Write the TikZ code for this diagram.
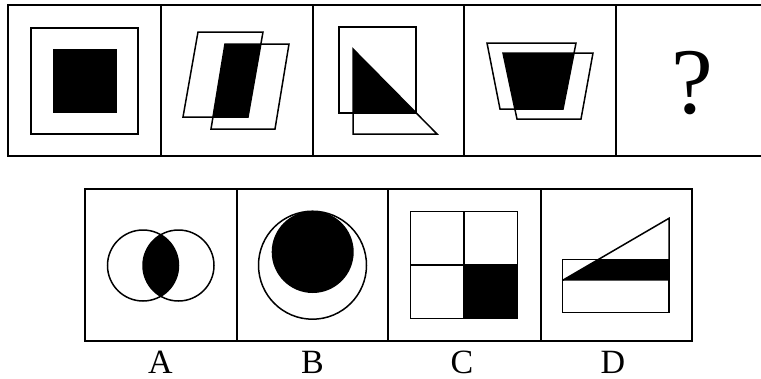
\documentclass[tikz,border=0pt]{standalone}
\usepackage{fontspec}
\setmainfont{Liberation Serif}
\begin{document}
\begin{tikzpicture}[x=1pt,y=-1pt,
  frame/.style={line width=1.8pt},
  outl/.style={line width=1.5pt, line join=miter},
  lbl/.style={font=\fontsize{34}{34}\selectfont, inner sep=0pt, anchor=base}]
\useasboundingbox (0,0) rectangle (761,378);
% ---------- top row ----------
\draw[frame] (761,5) -- (8,5) -- (8,156) -- (761,156);
\foreach \x in {161,313,464,616} \draw[frame] (\x,5) -- (\x,156);
% cell 1
\draw[outl] (31,28) rectangle (138,134);
\fill (53,49) rectangle (117,113);
% cell 2
\begin{scope}
  \clip (198,32) -- (263,32) -- (248,117) -- (183,117) -- cycle;
  \fill (225,44) -- (289,44) -- (275,129) -- (211,129) -- cycle;
\end{scope}
\draw[outl] (198,32) -- (263,32) -- (248,117) -- (183,117) -- cycle;
\draw[outl] (225,44) -- (289,44) -- (275,129) -- (211,129) -- cycle;
% cell 3
\begin{scope}
  \clip (339,27) rectangle (416,113);
  \fill (353,49) -- (353,134) -- (437,134) -- cycle;
\end{scope}
\draw[outl] (339,27) rectangle (416,113);
\draw[outl] (353,49) -- (353,134) -- (437,134) -- cycle;
% cell 4
\begin{scope}
  \clip (487,43) -- (576,43) -- (563,109) -- (500,109) -- cycle;
  \fill (503,53) -- (593,53) -- (581,119) -- (517,119) -- cycle;
\end{scope}
\draw[outl] (487,43) -- (576,43) -- (563,109) -- (500,109) -- cycle;
\draw[outl] (503,53) -- (593,53) -- (581,119) -- (517,119) -- cycle;
% cell 5
\node[inner sep=0pt, font=\fontsize{94}{94}\selectfont, anchor=base] (q) at (692,113) {?};
% ---------- bottom row ----------
\draw[frame] (85,189) rectangle (692,341);
\foreach \x in {237,388,541} \draw[frame] (\x,189) -- (\x,341);
% A
\begin{scope}
  \clip (143,265.5) circle (35.5);
  \fill (178.5,265.5) circle (35.5);
\end{scope}
\draw[outl] (143,265.5) circle (35.5);
\draw[outl] (178.5,265.5) circle (35.5);
% B
\draw[outl] (312.5,265.2) circle (54);
\fill (312.7,252) circle (41);
% C
\fill (464,265) rectangle (517.7,318.7);
\draw[outl] (410.7,211.7) rectangle (517.7,318.7);
\draw[outl] (464,211.7) -- (464,318.7);
\draw[outl] (410.7,265) -- (517.7,265);
% D
\begin{scope}
  \clip (562.3,259.3) rectangle (669,312.7);
  \fill (562.3,280.5) -- (669,218.3) -- (669,280.5) -- cycle;
\end{scope}
\draw[outl] (562.3,259.3) rectangle (669,312.7);
\draw[outl] (562.3,280.5) -- (669,218.3) -- (669,280.5);
% labels
\node[lbl] (la) at (160.5,373) {A};
\node[lbl] (lb) at (312.5,373) {B};
\node[lbl] (lc) at (462,373) {C};
\node[lbl] (ld) at (613,373) {D};
\end{tikzpicture}
\end{document}
